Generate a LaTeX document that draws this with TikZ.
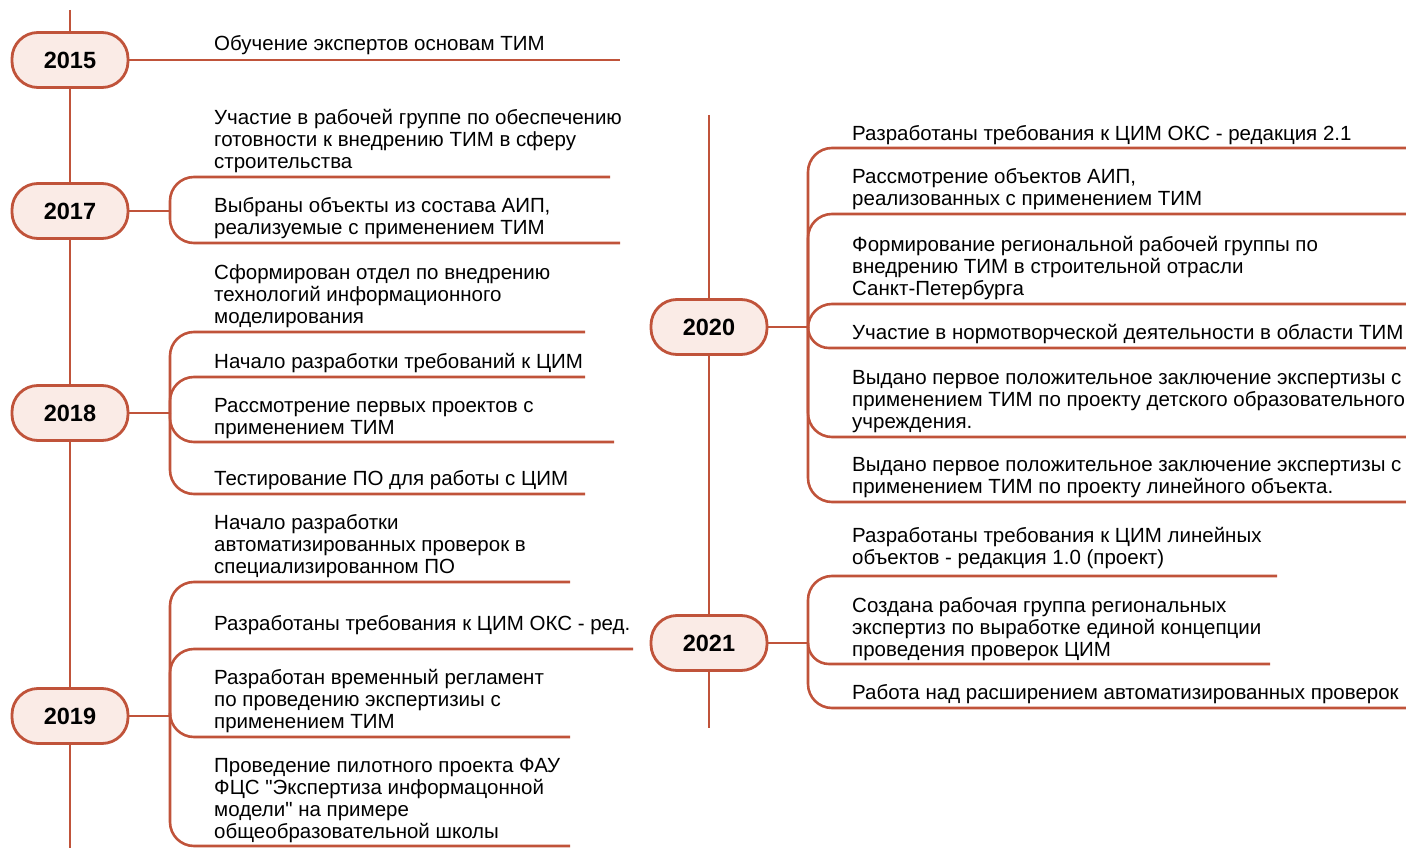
\documentclass[tikz,border=0pt]{standalone}
\usepackage{fontspec}
\setmainfont{Liberation Sans}[Ligatures=TeXOff]
\definecolor{rust}{HTML}{C0533A}
\definecolor{boxfill}{HTML}{FAEBE6}
\newcommand\lastst{\rule[-6pt]{0pt}{6pt}}
\begin{document}
\begin{tikzpicture}[x=1pt,y=-1pt,
  line/.style={draw=rust, line width=2.6pt},
  branch/.style={draw=rust, line width=2.6pt, rounded corners=24pt},
  yearbox/.style={draw=rust, fill=boxfill, line width=2.8pt, rounded corners=26pt,
    minimum width=116pt, minimum height=55pt, inner sep=0pt,
    font=\fontsize{23.5}{26}\selectfont\bfseries},
  item/.style={anchor=south west, inner sep=0pt, align=left,
    font=\fontsize{20.5}{22}\selectfont},
]
\useasboundingbox (0,0) rectangle (1406,848);

% timelines
\coordinate (lt) at (70,10);
\coordinate (lb) at (70,852);
\coordinate (rt) at (709,115);
\coordinate (rb) at (709,728);
\draw[line] (lt) -- (lb);
\draw[line] (rt) -- (rb);

% year boxes
\node[yearbox] (y2015) at (70,60) {2015};
\node[yearbox] (y2017) at (70,211) {2017};
\node[yearbox] (y2018) at (70,413) {2018};
\node[yearbox] (y2019) at (70,716) {2019};
\node[yearbox] (y2020) at (709,327) {2020};
\node[yearbox] (y2021) at (709,643) {2021};

% ---- 2015
\coordinate (e15) at (620,60);
\draw[line] (y2015.east) -- (e15);
\node[item] (t15) at (214,57) {Обучение экспертов основам ТИМ\lastst};

% ---- 2017
\coordinate (b17) at (170,211);
\draw[line] (y2017.east) -- (b17);
\coordinate (e17a) at (610,177);
\coordinate (e17b) at (620,243);
\draw[branch] (b17) |- (e17a);
\draw[branch] (b17) |- (e17b);
\node[item] (t17a) at (214,175) {Участие в рабочей группе по обеспечению\\готовности к внедрению ТИМ в сферу\\строительства\lastst};
\node[item] (t17b) at (214,241) {Выбраны объекты из состава АИП,\\реализуемые с применением ТИМ\lastst};

% ---- 2018
\coordinate (b18) at (170,413);
\draw[line] (y2018.east) -- (b18);
\coordinate (e18a) at (585,332);
\coordinate (e18b) at (585,377);
\coordinate (e18c) at (614,442);
\coordinate (e18d) at (585,494);
\draw[branch] (b18) |- (e18a);
\draw[branch] (b18) |- (e18b);
\draw[branch] (b18) |- (e18c);
\draw[branch] (b18) |- (e18d);
\node[item] (t18a) at (214,330) {Сформирован отдел по внедрению\\технологий информационного\\моделирования\lastst};
\node[item] (t18b) at (214,375) {Начало разработки требований к ЦИМ\lastst};
\node[item] (t18c) at (214,441) {Рассмотрение первых проектов с\\применением ТИМ\lastst};
\node[item] (t18d) at (214,492) {Тестирование ПО для работы с ЦИМ\lastst};

% ---- 2019
\coordinate (b19) at (170,716);
\draw[line] (y2019.east) -- (b19);
\coordinate (e19a) at (570,582);
\coordinate (e19b) at (633,649);
\coordinate (e19c) at (570,737);
\coordinate (e19d) at (570,846);
\draw[branch] (b19) |- (e19a);
\draw[branch] (b19) |- (e19b);
\draw[branch] (b19) |- (e19c);
\draw[branch] (b19) |- (e19d);
\node[item] (t19a) at (214,580) {Начало разработки\\автоматизированных проверок в\\специализированном ПО\lastst};
\node[item] (t19b) at (214,637) {Разработаны требования к ЦИМ ОКС - ред.\lastst};
\node[item] (t19c) at (214,735) {Разработан временный регламент\\по проведению экспертизиы с\\применением ТИМ\lastst};
\node[item] (t19d) at (214,845) {Проведение пилотного проекта ФАУ\\ФЦС "Экспертиза информацонной\\модели" на примере\\общеобразовательной школы\lastst};

% ---- 2020
\coordinate (b20) at (808,327);
\draw[line] (y2020.east) -- (b20);
\coordinate (e20a) at (1410,148);
\coordinate (e20b) at (1410,214);
\coordinate (e20c) at (1410,304);
\coordinate (e20d) at (1410,348);
\coordinate (e20e) at (1410,437);
\coordinate (e20f) at (1410,502);
\draw[branch] (b20) |- (e20a);
\draw[branch] (b20) |- (e20b);
\draw[branch] (b20) |- (e20c);
\draw[branch, rounded corners=21pt] (b20) |- (e20d);
\draw[branch] (b20) |- (e20e);
\draw[branch] (b20) |- (e20f);
\node[item] (t20a) at (852,147) {Разработаны требования к ЦИМ ОКС - редакция 2.1\lastst};
\node[item] (t20b) at (852,212) {Рассмотрение объектов АИП,\\реализованных с применением ТИМ\lastst};
\node[item] (t20c) at (852,302) {Формирование региональной рабочей группы по\\внедрению ТИМ в строительной отрасли\\Санкт-Петербурга\lastst};
\node[item] (t20d) at (852,346) {Участие в нормотворческой деятельности в области ТИМ\lastst};
\node[item] (t20e) at (852,435) {Выдано первое положительное заключение экспертизы с\\применением ТИМ по проекту детского образовательного\\учреждения.\lastst};
\node[item] (t20f) at (852,500) {Выдано первое положительное заключение экспертизы с\\применением ТИМ по проекту линейного объекта.\lastst};

% ---- 2021
\coordinate (b21) at (808,643);
\draw[line] (y2021.east) -- (b21);
\coordinate (e21a) at (1277,576);
\coordinate (e21b) at (1270,664);
\coordinate (e21c) at (1410,708);
\draw[branch] (b21) |- (e21a);
\draw[branch, rounded corners=21pt] (b21) |- (e21b);
\draw[branch] (b21) |- (e21c);
\node[item] (t21a) at (852,571) {Разработаны требования к ЦИМ линейных\\объектов - редакция 1.0 (проект)\lastst};
\node[item] (t21b) at (852,663) {Создана рабочая группа региональных\\экспертиз по выработке единой концепции\\проведения проверок ЦИМ\lastst};
\node[item] (t21c) at (852,706) {Работа над расширением автоматизированных проверок\lastst};
\end{tikzpicture}
\end{document}
